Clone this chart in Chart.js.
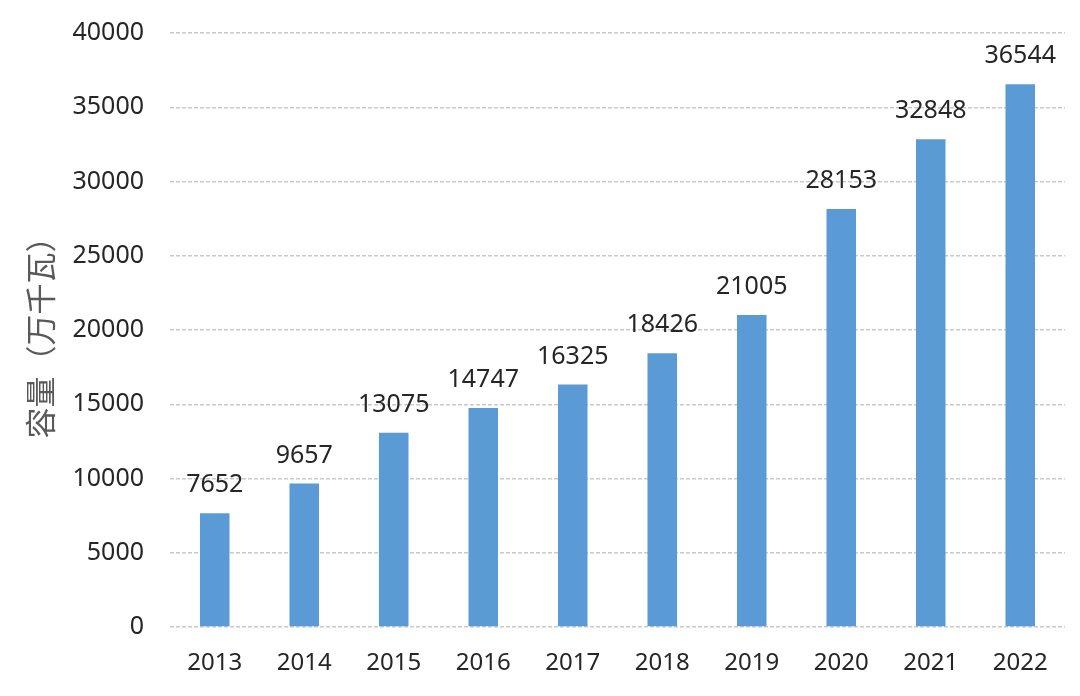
<!DOCTYPE html>
<html>
<head>
<meta charset="utf-8">
<script src="https://cdn.jsdelivr.net/npm/chart.js@4"></script>
<style>
html,body{margin:0;padding:0;background:#fff;}
#wrap{width:1080px;height:696px;}
</style>
</head>
<body>
<div id="wrap"><canvas id="c" width="1080" height="696"></canvas></div>
<script>
const categories = ['2013','2014','2015','2016','2017','2018','2019','2020','2021','2022'];
const capacity = [7652, 9657, 13075, 14747, 16325, 18426, 21005, 28153, 32848, 36544];
const yTicks = [0,5000,10000,15000,20000,25000,30000,35000,40000];
const yTitle = '容量（万千瓦）';

const labelPlugin = {
  id: 'barLabels',
  afterDatasetsDraw(chart) {
    const ctx = chart.ctx;
    const meta = chart.getDatasetMeta(0);
    ctx.save();
    ctx.font = '25px "Noto Sans", "Open Sans", sans-serif';
    ctx.fillStyle = '#262626';
    ctx.textAlign = 'center';
    ctx.textBaseline = 'alphabetic';
    meta.data.forEach((bar, i) => {
      ctx.fillText(String(capacity[i]), bar.x, bar.y - 21);
    });
    ctx.restore();
  }
};

new Chart(document.getElementById('c'), {
  type: 'bar',
  data: {
    labels: categories,
    datasets: [{
      data: capacity,
      backgroundColor: '#5B9BD5',
      borderWidth: 0,
      barPercentage: 0.33,
      categoryPercentage: 1.0
    }]
  },
  options: {
    responsive: false,
    animation: false,
    layout: { padding: { top: 33, right: 15, left: 0, bottom: 0 } },
    plugins: { legend: { display: false }, tooltip: { enabled: false } },
    scales: {
      x: {
        grid: { display: false, drawTicks: false },
        border: { display: false },
        ticks: { color: '#262626', font: { family: '"Noto Sans", sans-serif', size: 24 }, padding: 22 },
        afterFit(s) { s.height = 69; }
      },
      y: {
        min: 0, max: 40000,
        afterBuildTicks(s) { s.ticks = yTicks.map(v => ({ value: v })); },
        grid: { color: '#c9c9c9', lineWidth: 1.5, drawTicks: false },
        border: { display: false, dash: [4, 2] },
        ticks: {
          color: '#262626', font: { family: '"Noto Sans", sans-serif', size: 25 }, padding: 26,
          callback: v => String(v)
        },
        title: {
          display: true, text: yTitle, color: '#595959',
          font: { family: '"Noto Sans CJK SC", sans-serif', size: 31 },
          padding: { top: 22, bottom: 0 }
        },
        afterFit(s) { s.width = 170; s.paddingTop = 0; s.paddingBottom = 0; }
      }
    }
  },
  plugins: [labelPlugin]
});
</script>
</body>
</html>
